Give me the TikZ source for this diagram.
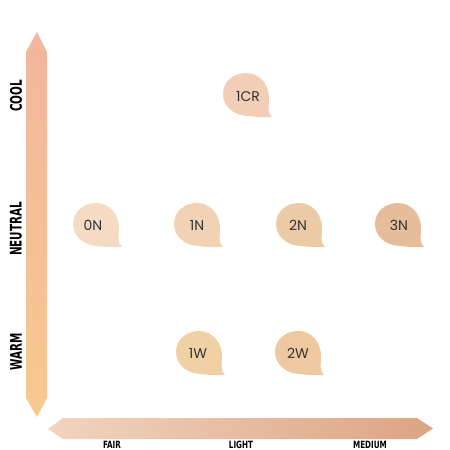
\documentclass[tikz,border=0pt]{standalone}
\usepackage{fontspec}
\setmainfont{Poppins}
\newfontfamily\axisfont{DejaVu Sans Condensed Bold}
\definecolor{vtop}{HTML}{F1B69D}
\definecolor{vbot}{HTML}{F7C98F}
\definecolor{hleft}{HTML}{F1D4BF}
\definecolor{hright}{HTML}{DCA483}
\definecolor{cCR}{HTML}{F3CEB7}
\definecolor{c0N}{HTML}{F5DBC4}
\definecolor{c1N}{HTML}{F1D2B5}
\definecolor{c2N}{HTML}{EDCAA6}
\definecolor{c3N}{HTML}{E6BD9B}
\definecolor{c1W}{HTML}{F0D1A5}
\definecolor{c2W}{HTML}{EEC99F}
\definecolor{txt}{HTML}{333333}
\tikzset{
  droppic/.pic={
    \fill[pic actions] (26,23) .. controls (20,23.5) and (10,23) .. (1,22)
      .. controls (-14,21) and (-23,11) .. (-23,0)
      .. controls (-23,-13) and (-12,-21) .. (0,-21)
      .. controls (14,-21) and (23,-9) .. (23,4)
      .. controls (23,13) and (21,18) .. (26,23) -- cycle;
  },
  droplab/.style={font=\fontsize{14}{14}\selectfont, text=txt, inner sep=0pt},
  vlab/.style={rotate=90, font=\fontsize{16}{16}\selectfont, text=black, inner sep=0pt},
  hlab/.style={anchor=base, font=\fontsize{10}{10}\selectfont, text=black, inner sep=0pt},
}
\begin{document}
\begin{tikzpicture}[x=1pt,y=-1pt]
\useasboundingbox (0,0) rectangle (450,450);
% vertical axis arrow
\shade[top color=vtop, bottom color=vbot]
  (37,32) -- (47,52) -- (47,398) -- (37,417) -- (26,398) -- (26,52) -- cycle;
% horizontal axis arrow
\shade[left color=hleft, right color=hright]
  (48,429) -- (63,418) -- (417,418) -- (433,428.5) -- (417,439) -- (63,439) -- cycle;
% axis labels
\node[vlab] (cool) at (16,96) {\scalebox{0.72}[1]{\axisfont COOL}};
\node[vlab] (neutral) at (16,229) {\scalebox{0.72}[1]{\axisfont NEUTRAL}};
\node[vlab] (warm) at (16,352) {\scalebox{0.72}[1]{\axisfont WARM}};
\node[hlab] (fair) at (112,448) {\scalebox{0.8}[1]{\axisfont FAIR}};
\node[hlab] (light) at (241,448) {\scalebox{0.8}[1]{\axisfont LIGHT}};
\node[hlab] (medium) at (370,448) {\scalebox{0.8}[1]{\axisfont MEDIUM}};
% drops
\pic[fill=cCR] at (246,94) {droppic};
\pic[fill=c0N] at (96,224) {droppic};
\pic[fill=c1N] at (197,224) {droppic};
\pic[fill=c2N] at (299,224) {droppic};
\pic[fill=c3N] at (398,224) {droppic};
\pic[fill=c1W] at (199,352) {droppic};
\pic[fill=c2W] at (298,352) {droppic};
% drop labels
\node[droplab] (d1CR) at (248,96) {1CR};
\node[droplab] (d0N) at (93,225) {0N};
\node[droplab] (d1N) at (197,225) {1N};
\node[droplab] (d2N) at (298,225) {2N};
\node[droplab] (d3N) at (399,225) {3N};
\node[droplab] (d1W) at (198,353) {1W};
\node[droplab] (d2W) at (298,353) {2W};
\end{tikzpicture}
\end{document}
